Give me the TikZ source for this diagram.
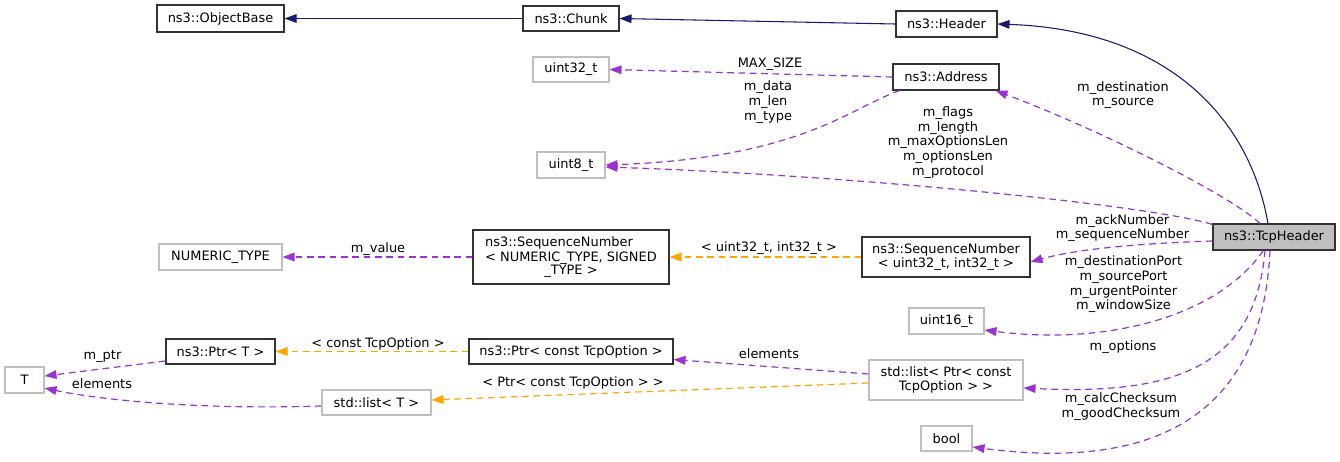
\documentclass[tikz,border=0pt]{standalone}
\usepackage{fontspec}
\setmainfont{DejaVu Sans}
\usetikzlibrary{arrows.meta}
\definecolor{navy}{HTML}{191970}
\definecolor{purp}{HTML}{9A32CD}
\definecolor{orng}{HTML}{FFA500}
\definecolor{gbord}{HTML}{BFBFBF}
\definecolor{dbord}{HTML}{333333}
\tikzset{
  box/.style={draw=dbord, line width=0.8pt, rectangle, inner sep=0pt, align=center},
  gbox/.style={draw=gbord, line width=0.8pt, rectangle, inner sep=0pt, align=center},
  lbl/.style={inner sep=0pt, align=center},
  tip/.style={-{Triangle[length=9pt,width=6.5pt]}},
  inh/.style={draw=navy, line width=0.8pt, tip, color=navy},
  use/.style={draw=purp, line width=0.9pt, dash pattern=on 5pt off 3.5pt, tip, color=purp},
  tmpl/.style={draw=orng, line width=0.9pt, dash pattern=on 5pt off 3.5pt, tip, color=orng},
}
\begin{document}
\begin{tikzpicture}[x=0.75pt,y=-0.75pt,font=\fontsize{9.7pt}{11pt}\selectfont]
\useasboundingbox (0,0) rectangle (1340,461);
% nodes
\node[box, minimum width=95.25pt, minimum height=20.25pt] (objbase) at (220.5,18.5) {ns3::ObjectBase};
\node[box, minimum width=72pt, minimum height=18.75pt] (chunk) at (571,18.5) {ns3::Chunk};
\node[box, minimum width=75.75pt, minimum height=19.5pt] (header) at (946.5,24) {ns3::Header};
\node[box, minimum width=79.5pt, minimum height=19.5pt] (addr) at (946,77) {ns3::Address};
\node[gbox, minimum width=57pt, minimum height=18.75pt] (u32) at (571,69.5) {uint32\_t};
\node[gbox, minimum width=51pt, minimum height=19.5pt] (u8) at (571,165) {uint8\_t};
\node[box, fill=gbord, minimum width=91.5pt, minimum height=19.5pt] (tcp) at (1274,237) {ns3::TcpHeader};
\node[box, minimum width=126pt, minimum height=30pt] (sequ) at (946,257) {ns3::SequenceNumber\\< uint32\_t, int32\_t >};
\node[box, minimum width=147pt, minimum height=40.5pt] (seqn) at (571,257) {\begin{tabular}{@{}l@{}}ns3::SequenceNumber\\< NUMERIC\_TYPE, SIGNED\end{tabular}\\[-1pt]\_TYPE >};
\node[gbox, minimum width=92.25pt, minimum height=19.5pt] (numt) at (220.5,257) {NUMERIC\_TYPE};
\node[gbox, minimum width=56.25pt, minimum height=19.5pt] (u16) at (946.5,321) {uint16\_t};
\node[gbox, minimum width=115.5pt, minimum height=30pt] (listp) at (946,380) {std::list< Ptr< const\\TcpOption > >};
\node[gbox, minimum width=38.25pt, minimum height=18.75pt] (bool) at (946.5,438.5) {bool};
\node[box, minimum width=153pt, minimum height=18.75pt] (ptrc) at (571,351.5) {ns3::Ptr< const TcpOption >};
\node[gbox, minimum width=81.75pt, minimum height=18.75pt] (listt) at (376.5,402.5) {std::list< T >};
\node[box, minimum width=81.75pt, minimum height=18.75pt] (ptrt) at (220.5,351.5) {ns3::Ptr< T >};
\node[gbox, minimum width=29.25pt, minimum height=19.5pt] (T) at (24.5,380) {T};
% inheritance
\draw[inh] (chunk.west) -- (objbase.east);
\draw[inh] (header.west) -- (chunk.east);
\draw[inh] ([xshift=-4.5pt]tcp.north) .. controls (1250,120) and (1170,30) .. (header.east);
% usage
\draw[use] (addr.west) -- (u32.east);
\node[lbl] (l1) at (770,64) {MAX\_SIZE};
\draw[use] ([xshift=5.25pt]addr.south west) .. controls (850,108) and (800,158) .. (u8.east);
\node[lbl] (l2) at (768,102) {m\_data\\m\_len\\m\_type};
\draw[use] ([yshift=-0.75pt]tcp.north west) .. controls (1150,205) and (850,175) .. ([yshift=-1.5pt]u8.east);
\node[lbl] (l3) at (948,142.5) {m\_flags\\m\_length\\m\_maxOptionsLen\\m\_optionsLen\\m\_protocol};
\draw[use] ([xshift=-10.5pt]tcp.north) .. controls (1230,195) and (1100,130) .. ([xshift=-3pt]addr.south east);
\node[lbl] (l4) at (1123,95) {m\_destination\\m\_source};
\draw[use] ([yshift=-3pt]tcp.west) .. controls (1150,243) and (1080,248) .. ([yshift=-3.75pt]sequ.east);
\node[lbl] (l5) at (1122.5,228) {m\_ackNumber\\m\_sequenceNumber};
\draw[tmpl] (sequ.west) -- (seqn.east);
\node[lbl] (l6) at (769,248) {< uint32\_t, int32\_t >};
\draw[use] (seqn.west) -- (numt.east);
\node[lbl] (l7) at (378,249) {m\_value};
\draw[use] ([xshift=-8pt]tcp.south) .. controls (1215,320) and (1100,345) .. ([yshift=-6.75pt]u16.east);
\node[lbl] (l8) at (1123.5,284.3) {m\_destinationPort\\m\_sourcePort\\m\_urgentPointer\\m\_windowSize};
\draw[use] ([xshift=-6.75pt]tcp.south) .. controls (1255,370) and (1170,395) .. ([yshift=-6pt]listp.east);
\node[lbl] (l9) at (1123,346.7) {m\_options};
\draw[use] ([xshift=-3pt]tcp.south) .. controls (1262,420) and (1150,470) .. ([yshift=-6.4pt]bool.east);
\node[lbl] (l10) at (1121,406.5) {m\_calcChecksum\\m\_goodChecksum};
\draw[use] ([yshift=4.5pt]listp.west) -- ([yshift=-6pt]ptrc.east);
\node[lbl] (l11) at (769,354) {elements};
\draw[tmpl] ([yshift=-2.25pt]listp.west) -- ([yshift=1.9pt]listt.east);
\node[lbl] (l12) at (573,383) {< Ptr< const TcpOption > >};
\draw[tmpl] (ptrc.west) -- (ptrt.east);
\node[lbl] (l13) at (378,344) {< const TcpOption >};
\draw[use] ([yshift=-7.1pt]ptrt.west) -- ([yshift=3pt]T.east);
\node[lbl] (l14) at (102.5,356.7) {m\_ptr};
\draw[use] ([yshift=-2.6pt]listt.west) .. controls (200,410) and (100,400) .. ([yshift=-6pt]T.east);
\node[lbl] (l15) at (102,384) {elements};
\end{tikzpicture}
\end{document}
